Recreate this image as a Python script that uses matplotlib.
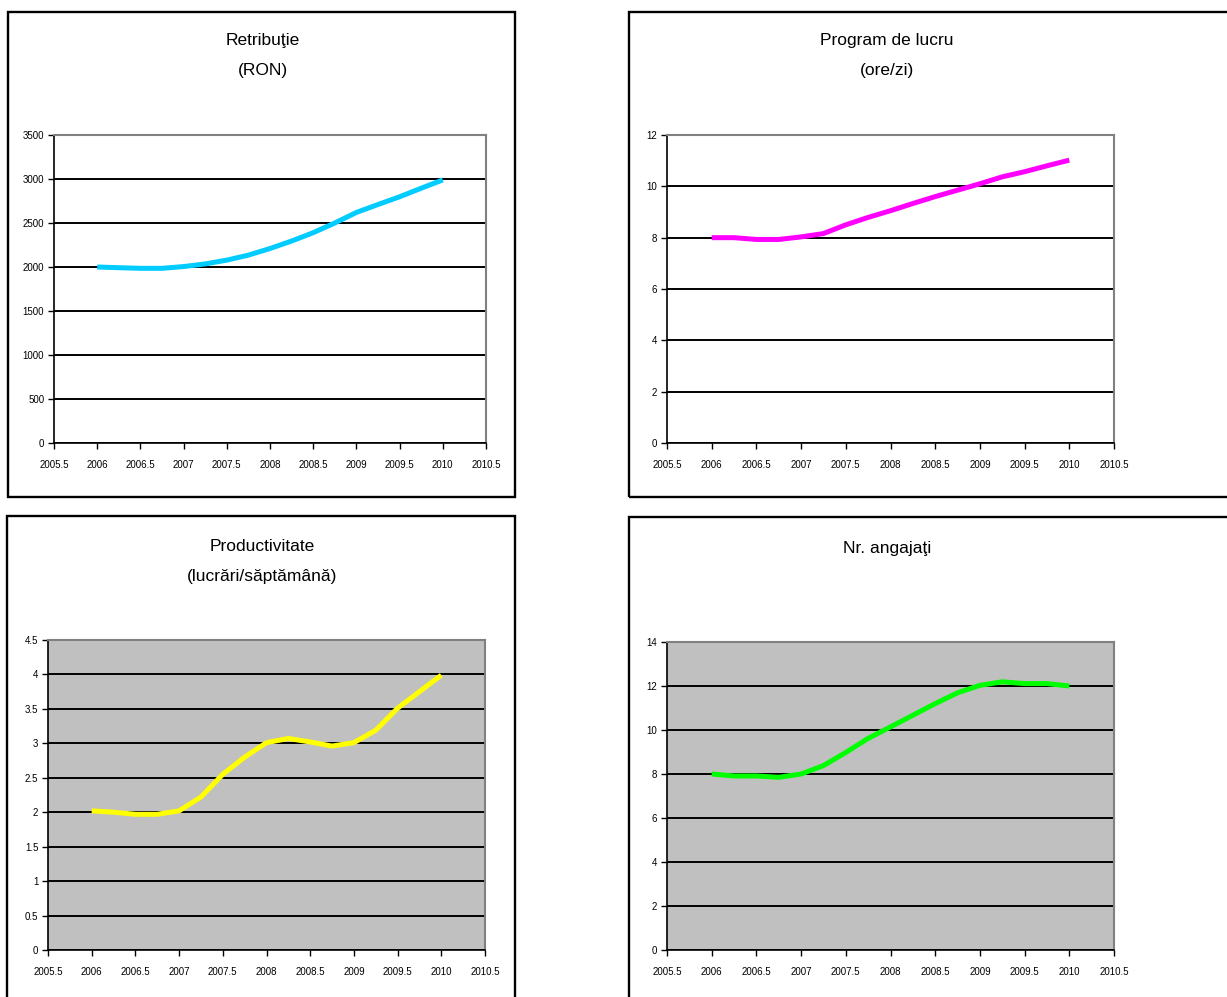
import matplotlib
matplotlib.use("Agg")
import matplotlib.pyplot as plt
from matplotlib.patches import Rectangle

plt.rcParams['font.family'] = ['Liberation Sans', 'DejaVu Sans']

# x positions (years) read at quarter-year steps
years = [2006, 2006.25, 2006.5, 2006.75, 2007, 2007.25, 2007.5, 2007.75, 2008,
         2008.25, 2008.5, 2008.75, 2009, 2009.25, 2009.5, 2009.75, 2010]

retributie = [2000, 1992, 1985, 1985, 2005, 2035, 2078, 2135, 2210,
              2295, 2390, 2500, 2620, 2710, 2798, 2895, 2990]
program = [8.0, 8.0, 7.93, 7.93, 8.03, 8.16, 8.5, 8.79, 9.05,
           9.33, 9.6, 9.85, 10.1, 10.37, 10.57, 10.8, 11.02]
productivitate = [2.02, 2.0, 1.97, 1.97, 2.02, 2.22, 2.55, 2.8, 3.01,
                  3.07, 3.02, 2.96, 3.01, 3.19, 3.51, 3.75, 3.99]
angajati = [8.0, 7.91, 7.91, 7.85, 8.0, 8.38, 8.98, 9.62, 10.14,
            10.67, 11.2, 11.69, 12.03, 12.19, 12.11, 12.11, 12.0]

x_ticks = [2005.5, 2006, 2006.5, 2007, 2007.5, 2008, 2008.5, 2009, 2009.5, 2010, 2010.5]
x_labels = ["2005.5", "2006", "2006.5", "2007", "2007.5", "2008", "2008.5",
            "2009", "2009.5", "2010", "2010.5"]

ret_ticks = [0, 500, 1000, 1500, 2000, 2500, 3000, 3500]
prog_ticks = [0, 2, 4, 6, 8, 10, 12]
prod_ticks = [0, 0.5, 1, 1.5, 2, 2.5, 3, 3.5, 4, 4.5]
prod_labels = ["0", "0.5", "1", "1.5", "2", "2.5", "3", "3.5", "4", "4.5"]
ang_ticks = [0, 2, 4, 6, 8, 10, 12, 14]

W, H = 1227, 997
fig = plt.figure(figsize=(W / 100, H / 100), dpi=100)


def px_rect(l, t, r, b):
    return [l / W, 1 - b / H, (r - l) / W, (b - t) / H]


# outer chart boxes
for (l, t, r, b) in [(8, 12, 515, 497), (629, 12, 1232, 497),
                     (7, 516, 515, 1002), (629, 517, 1232, 1002)]:
    fig.patches.append(Rectangle((l / W, 1 - b / H), (r - l) / W, (b - t) / H,
                                 transform=fig.transFigure, fill=False,
                                 edgecolor="black", linewidth=1.7))


def panel(rect, y, color, yticks, ylabels, bg, titles, title_x, title_y):
    ax = fig.add_axes(px_rect(*rect))
    ax.set_facecolor(bg)
    ax.plot(years, y, color=color, linewidth=3.6, solid_capstyle="butt", zorder=3)
    ax.set_xlim(2005.5, 2010.5)
    ax.set_ylim(yticks[0], yticks[-1])
    ax.set_xticks(x_ticks)
    ax.set_xticklabels(x_labels)
    ax.set_yticks(yticks)
    ax.set_yticklabels(ylabels)
    ax.tick_params(axis="x", labelsize=7, length=4, width=1, pad=8)
    ax.tick_params(axis="y", labelsize=7, length=4, width=1, pad=3)
    ax.set_axisbelow(True)
    ax.yaxis.grid(True, color="black", linewidth=1.4)
    for s in ["left", "bottom"]:
        ax.spines[s].set_color("black")
        ax.spines[s].set_linewidth(1.2)
    for s in ["top", "right"]:
        ax.spines[s].set_color("#808080")
        ax.spines[s].set_linewidth(1.5)
    for i, txt in enumerate(titles):
        fig.text(title_x / W, 1 - (title_y + 30 * i) / H, txt, ha="center",
                 va="center", fontsize=12.5)
    return ax


panel((54, 135, 486, 443), retributie, "#00CCFF", ret_ticks,
      [str(v) for v in ret_ticks], "white", ["Retribuţie", "(RON)"], 263, 41)
panel((667, 135, 1114, 443), program, "#FF00FF", prog_ticks,
      [str(v) for v in prog_ticks], "white", ["Program de lucru", "(ore/zi)"], 887, 41)
panel((48, 640, 485, 950), productivitate, "#FFFF00", prod_ticks,
      prod_labels, "#C0C0C0", ["Productivitate", "(lucrări/săptămână)"], 262, 546)
panel((667, 642, 1114, 950), angajati, "#00FF00", ang_ticks,
      [str(v) for v in ang_ticks], "#C0C0C0", ["Nr. angajaţi"], 887, 548)

fig.savefig("out.png", dpi=100)
